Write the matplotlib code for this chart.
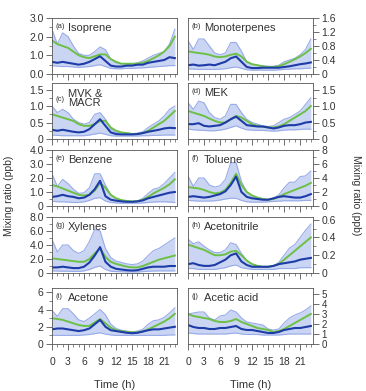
import numpy as np
import matplotlib.pyplot as plt
from matplotlib.ticker import MultipleLocator

plt.rcParams['font.family'] = ['Liberation Sans', 'DejaVu Sans']

hours = np.arange(24)

# ---- data ----
isoprene_green = [1.8, 1.6, 1.5, 1.4, 1.2, 1.0, 0.9, 0.85, 0.95, 1.05, 1.05, 0.8, 0.65, 0.55, 0.55, 0.55, 0.55, 0.6, 0.7, 0.85, 1.0, 1.2, 1.5, 2.0]
isoprene_blue = [0.65, 0.6, 0.65, 0.6, 0.55, 0.5, 0.55, 0.65, 0.8, 0.95, 0.7, 0.45, 0.4, 0.4, 0.45, 0.45, 0.5, 0.5, 0.6, 0.65, 0.7, 0.75, 0.9, 0.85]
isoprene_hi = [2.4, 1.6, 2.2, 2.0, 1.5, 1.1, 1.0, 1.0, 1.2, 1.45, 1.3, 0.8, 0.6, 0.55, 0.55, 0.55, 0.6, 0.7, 0.85, 1.0, 1.1, 1.2, 1.6, 2.4]
isoprene_lo = [0.45, 0.42, 0.4, 0.4, 0.38, 0.35, 0.38, 0.4, 0.45, 0.5, 0.4, 0.3, 0.28, 0.28, 0.3, 0.3, 0.32, 0.33, 0.35, 0.38, 0.4, 0.42, 0.45, 0.45]

monoterp_green = [0.65, 0.62, 0.6, 0.58, 0.55, 0.5, 0.48, 0.5, 0.55, 0.58, 0.5, 0.35, 0.28, 0.25, 0.22, 0.2, 0.2, 0.22, 0.28, 0.35, 0.42, 0.5, 0.6, 0.72]
monoterp_blue = [0.25, 0.27, 0.24, 0.25, 0.27, 0.25, 0.3, 0.35, 0.45, 0.5, 0.35, 0.2, 0.17, 0.17, 0.18, 0.18, 0.18, 0.18, 0.2, 0.22, 0.25, 0.28, 0.3, 0.33]
monoterp_hi = [0.95, 0.7, 1.0, 1.0, 0.8, 0.6, 0.55, 0.6, 0.9, 0.9, 0.65, 0.35, 0.28, 0.25, 0.23, 0.22, 0.22, 0.25, 0.35, 0.4, 0.45, 0.55, 0.7, 1.0]
monoterp_lo = [0.15, 0.14, 0.13, 0.13, 0.13, 0.13, 0.14, 0.15, 0.18, 0.2, 0.16, 0.12, 0.11, 0.11, 0.11, 0.11, 0.11, 0.12, 0.13, 0.14, 0.15, 0.15, 0.16, 0.17]

mvk_green = [0.75, 0.7, 0.65, 0.6, 0.55, 0.45, 0.4, 0.4, 0.45, 0.55, 0.55, 0.35, 0.25, 0.2, 0.18, 0.15, 0.15, 0.18, 0.25, 0.35, 0.45, 0.55, 0.7, 0.85]
mvk_blue = [0.28, 0.25, 0.28, 0.25, 0.22, 0.2, 0.22, 0.3, 0.45, 0.6, 0.4, 0.2, 0.15, 0.14, 0.14, 0.14, 0.15, 0.18, 0.22, 0.25, 0.28, 0.32, 0.34, 0.33]
mvk_hi = [1.0, 0.8, 0.9, 0.8, 0.6, 0.5, 0.45, 0.5, 0.75, 0.8, 0.6, 0.3, 0.2, 0.18, 0.18, 0.16, 0.18, 0.22, 0.35, 0.45, 0.55, 0.7, 0.9, 1.0]
mvk_lo = [0.12, 0.11, 0.1, 0.1, 0.1, 0.1, 0.1, 0.12, 0.15, 0.18, 0.14, 0.1, 0.09, 0.09, 0.09, 0.09, 0.09, 0.1, 0.1, 0.11, 0.11, 0.12, 0.12, 0.12]

mek_green = [0.85, 0.8, 0.75, 0.7, 0.62, 0.55, 0.5, 0.5, 0.6, 0.7, 0.65, 0.55, 0.45, 0.4, 0.37, 0.35, 0.35, 0.38, 0.45, 0.55, 0.65, 0.75, 0.85, 1.0]
mek_blue = [0.45, 0.45, 0.48, 0.4, 0.38, 0.4, 0.42, 0.5, 0.6, 0.68, 0.55, 0.42, 0.4, 0.38, 0.38, 0.35, 0.32, 0.35, 0.4, 0.42, 0.42, 0.45, 0.5, 0.52]
mek_hi = [1.1, 0.9, 1.15, 1.1, 0.8, 0.65, 0.6, 0.7, 1.05, 1.05, 0.8, 0.6, 0.5, 0.45, 0.4, 0.38, 0.4, 0.5, 0.6, 0.65, 0.75, 0.85, 1.05, 1.25]
mek_lo = [0.3, 0.28, 0.27, 0.26, 0.25, 0.25, 0.27, 0.3, 0.35, 0.4, 0.33, 0.28, 0.27, 0.26, 0.26, 0.25, 0.24, 0.25, 0.27, 0.28, 0.28, 0.29, 0.3, 0.3]

benzene_green = [1.5, 1.4, 1.25, 1.1, 0.95, 0.8, 0.75, 0.8, 1.1, 1.65, 1.3, 0.8, 0.55, 0.42, 0.36, 0.32, 0.35, 0.45, 0.65, 0.9, 1.1, 1.3, 1.55, 1.9]
benzene_blue = [0.65, 0.7, 0.8, 0.7, 0.65, 0.55, 0.6, 0.8, 1.2, 1.8, 0.7, 0.45, 0.38, 0.33, 0.3, 0.3, 0.33, 0.4, 0.55, 0.65, 0.75, 0.85, 0.95, 1.0]
benzene_hi = [2.3, 1.4, 1.9, 1.6, 1.2, 0.9, 0.95, 1.3, 2.3, 2.3, 1.5, 0.8, 0.5, 0.4, 0.35, 0.32, 0.35, 0.55, 0.9, 1.2, 1.3, 1.6, 2.0, 2.4]
benzene_lo = [0.35, 0.3, 0.3, 0.28, 0.25, 0.25, 0.3, 0.4, 0.55, 0.6, 0.35, 0.25, 0.22, 0.2, 0.2, 0.2, 0.2, 0.22, 0.25, 0.28, 0.3, 0.3, 0.28, 0.25]

toluene_green = [2.7, 2.6, 2.5, 2.3, 2.0, 1.8, 1.9, 2.3, 3.3, 4.6, 3.0, 2.0, 1.5, 1.2, 1.0, 0.9, 1.0, 1.3, 1.7, 2.0, 2.3, 2.6, 2.9, 3.3]
toluene_blue = [1.3, 1.4, 1.3, 1.2, 1.3, 1.5, 1.7, 2.1, 3.0, 4.2, 2.0, 1.3, 1.1, 1.0, 0.9, 0.9, 1.1, 1.3, 1.4, 1.3, 1.2, 1.2, 1.4, 1.7]
toluene_hi = [4.3, 2.8, 4.0, 4.0, 3.0, 2.7, 2.9, 3.8, 6.2, 6.2, 3.5, 2.0, 1.5, 1.2, 1.0, 0.9, 1.1, 1.6, 2.6, 3.4, 3.4, 4.2, 4.3, 5.0]
toluene_lo = [0.8, 0.75, 0.7, 0.7, 0.7, 0.75, 0.85, 1.0, 1.1, 1.1, 0.8, 0.6, 0.55, 0.55, 0.55, 0.6, 0.65, 0.7, 0.75, 0.75, 0.75, 0.75, 0.8, 0.8]

xylene_green = [2.1, 2.0, 1.9, 1.8, 1.7, 1.6, 1.6, 2.0, 2.8, 3.5, 2.3, 1.6, 1.3, 1.1, 0.9, 0.8, 0.8, 1.0, 1.3, 1.6, 1.9, 2.1, 2.3, 2.5]
xylene_blue = [0.8, 0.8, 0.9, 0.8, 0.7, 0.7, 0.9, 1.5, 2.5, 3.7, 1.6, 0.9, 0.6, 0.5, 0.4, 0.35, 0.4, 0.6, 0.8, 0.9, 0.9, 0.9, 1.0, 1.0]
xylene_hi = [4.8, 3.0, 4.0, 4.0, 3.2, 2.8, 3.2, 4.5, 6.2, 6.0, 3.5, 2.2, 1.7, 1.5, 1.3, 1.2, 1.3, 1.7, 2.5, 3.2, 3.5, 4.0, 4.5, 5.0]
xylene_lo = [0.3, 0.28, 0.25, 0.25, 0.22, 0.22, 0.3, 0.5, 0.8, 1.0, 0.5, 0.25, 0.2, 0.18, 0.15, 0.15, 0.15, 0.2, 0.25, 0.28, 0.3, 0.3, 0.3, 0.3]

acn_green = [0.32, 0.3, 0.28, 0.26, 0.23, 0.2, 0.2, 0.21, 0.24, 0.25, 0.2, 0.14, 0.1, 0.08, 0.07, 0.07, 0.08, 0.1, 0.15, 0.2, 0.25, 0.3, 0.35, 0.4]
acn_blue = [0.1, 0.11, 0.09, 0.08, 0.08, 0.09, 0.12, 0.15, 0.2, 0.22, 0.13, 0.09, 0.07, 0.07, 0.07, 0.07, 0.08, 0.1, 0.11, 0.12, 0.13, 0.15, 0.16, 0.17]
acn_hi = [0.38, 0.33, 0.35, 0.3, 0.26, 0.23, 0.23, 0.26, 0.34, 0.32, 0.22, 0.14, 0.1, 0.08, 0.07, 0.07, 0.08, 0.12, 0.2, 0.28, 0.32, 0.4, 0.48, 0.55]
acn_lo = [0.05, 0.05, 0.04, 0.04, 0.04, 0.04, 0.05, 0.06, 0.08, 0.09, 0.06, 0.05, 0.04, 0.04, 0.04, 0.04, 0.04, 0.05, 0.05, 0.05, 0.05, 0.06, 0.06, 0.06]

acetone_green = [3.0, 2.9, 2.8, 2.6, 2.4, 2.2, 2.1, 2.1, 2.5, 2.9, 2.4, 1.9, 1.6, 1.5, 1.4, 1.35, 1.35, 1.45, 1.7, 2.0, 2.3, 2.6, 3.0, 3.5]
acetone_blue = [1.7, 1.8, 1.8, 1.7, 1.6, 1.5, 1.6, 1.8, 2.3, 2.8, 2.0, 1.6, 1.5, 1.4, 1.3, 1.25, 1.3, 1.45, 1.6, 1.7, 1.7, 1.8, 1.9, 2.0]
acetone_hi = [3.9, 3.2, 4.1, 4.1, 3.5, 2.8, 2.6, 3.0, 3.5, 4.0, 3.4, 2.3, 1.8, 1.6, 1.5, 1.4, 1.5, 1.7, 2.3, 2.7, 2.8, 3.1, 3.6, 4.2]
acetone_lo = [1.0, 1.0, 1.0, 1.0, 1.0, 1.0, 1.05, 1.1, 1.2, 1.3, 1.15, 1.05, 1.0, 1.0, 1.0, 1.0, 1.0, 1.0, 1.0, 1.0, 1.0, 1.0, 1.05, 1.05]

acetic_green = [3.0, 2.8, 2.7, 2.6, 2.5, 2.3, 2.2, 2.2, 2.3, 2.5, 2.2, 2.0, 1.8, 1.6, 1.5, 1.4, 1.2, 1.3, 1.5, 1.8, 2.1, 2.4, 2.7, 3.0]
acetic_blue = [1.9, 1.7, 1.6, 1.6, 1.5, 1.5, 1.6, 1.6, 1.7, 1.8, 1.5, 1.4, 1.4, 1.3, 1.2, 1.1, 1.1, 1.2, 1.4, 1.5, 1.6, 1.6, 1.7, 1.8]
acetic_hi = [3.0, 3.1, 3.2, 3.2, 2.6, 2.4, 2.8, 2.9, 3.4, 3.2, 2.6, 2.2, 2.1, 2.0, 1.9, 1.5, 1.4, 1.5, 2.1, 2.6, 2.9, 3.1, 3.4, 3.8]
acetic_lo = [1.1, 1.05, 1.0, 1.0, 1.0, 1.0, 1.0, 1.0, 1.05, 1.1, 1.0, 0.95, 0.95, 0.95, 0.9, 0.9, 0.9, 0.9, 0.95, 1.0, 1.0, 1.0, 1.0, 1.0]

panels = [
    # letter, name, green, blue, hi, lo, ymax, major, minor, fmt, zero label
    ('(a)', 'Isoprene', isoprene_green, isoprene_blue, isoprene_hi, isoprene_lo, 3.0, 1.0, 0.5, '%.1f', '0.0'),
    ('(b)', 'Monoterpenes', monoterp_green, monoterp_blue, monoterp_hi, monoterp_lo, 1.6, 0.4, 0.2, '%.1f', '0'),
    ('(c)', 'MVK &\nMACR', mvk_green, mvk_blue, mvk_hi, mvk_lo, 1.7, 0.5, 0.25, '%.1f', '0'),
    ('(d)', 'MEK', mek_green, mek_blue, mek_hi, mek_lo, 1.7, 0.5, 0.25, '%.1f', '0'),
    ('(e)', 'Benzene', benzene_green, benzene_blue, benzene_hi, benzene_lo, 4.0, 1.0, 0.5, '%.1f', '0'),
    ('(f)', 'Toluene', toluene_green, toluene_blue, toluene_hi, toluene_lo, 8.0, 2.0, 1.0, '%d', '0'),
    ('(g)', 'Xylenes', xylene_green, xylene_blue, xylene_hi, xylene_lo, 8.0, 2.0, 1.0, '%.1f', '0'),
    ('(h)', 'Acetonitrile', acn_green, acn_blue, acn_hi, acn_lo, 0.63, 0.2, 0.1, '%.1f', '0'),
    ('(i)', 'Acetone', acetone_green, acetone_blue, acetone_hi, acetone_lo, 6.5, 2.0, 1.0, '%d', '0'),
    ('(j)', 'Acetic acid', acetic_green, acetic_blue, acetic_hi, acetic_lo, 5.6, 1.0, 1.0, '%d', '0'),
]

c_fill = '#cad5f3'
c_edge = '#98abe8'
c_blue = '#1e3ca8'
c_green = '#6cc046'
c_spine = '#555555'
c_text = '#333333'

W, H = 366, 391
fig = plt.figure(figsize=(W / 100, H / 100), dpi=100)

col_x = [52, 188]
ax_w = 125
row_top = [18, 83, 150, 217, 288]
ax_h = 56

for i, (let, name, g, b, hi, lo, ymax, maj, mnr, fmt, zlab) in enumerate(panels):
    r, c = divmod(i, 2)
    ax = fig.add_axes([col_x[c] / W, 1 - (row_top[r] + ax_h) / H, ax_w / W, ax_h / H])
    ax.fill_between(hours, lo, hi, color=c_fill, lw=0)
    ax.plot(hours, hi, color=c_edge, lw=0.8)
    ax.plot(hours, lo, color=c_edge, lw=0.8)
    ax.plot(hours, g, color=c_green, lw=1.4)
    ax.plot(hours, b, color=c_blue, lw=1.5)
    ax.set_xlim(0, 23.4)
    ax.set_ylim(0, ymax)

    ax.xaxis.set_major_locator(MultipleLocator(3))
    ax.xaxis.set_minor_locator(MultipleLocator(1))
    ax.yaxis.set_major_locator(MultipleLocator(maj))
    ax.yaxis.set_minor_locator(MultipleLocator(mnr))
    ax.yaxis.set_major_formatter(lambda v, p, f=fmt, z=zlab: z if abs(v) < 1e-9 else f % v)
    if c == 1:
        ax.yaxis.tick_right()
    ysize = 7 if let == '(j)' else 7.5
    ax.tick_params(which='major', length=4.5, width=0.6, color=c_spine, labelsize=7.5,
                   labelcolor=c_text, pad=1.5)
    ax.tick_params(axis='y', labelsize=ysize)
    ax.tick_params(which='minor', length=2.5, width=0.5, color=c_spine)
    ax.tick_params(axis='x', pad=5)
    if r < 4:
        ax.tick_params(axis='x', labelbottom=False)
    for s in ax.spines.values():
        s.set_color(c_spine)
        s.set_linewidth(0.6)

    if name.startswith('MVK'):
        ax.text(0.03, 0.7, let, transform=ax.transAxes, fontsize=5.5, va='center', color=c_text)
        ax.text(0.13, 0.72, name, transform=ax.transAxes, fontsize=8, va='center',
                linespacing=0.95, color=c_text)
    else:
        ax.text(0.03, 0.84, let, transform=ax.transAxes, fontsize=5.5, va='center', color=c_text)
        ax.text(0.13, 0.83, name, transform=ax.transAxes, fontsize=8, va='center', color=c_text)

    if r == 4:
        ax.set_xlabel('Time (h)', fontsize=8, labelpad=9, color=c_text)

fig.text(9 / W, 0.5, 'Mixing ratio (ppb)', rotation=90, fontsize=7.5, va='center', ha='center', color=c_text)
fig.text(356 / W, 0.5, 'Mixing ratio (ppb)', rotation=270, fontsize=7.5, va='center', ha='center', color=c_text)

fig.savefig('out.png', dpi=100)
